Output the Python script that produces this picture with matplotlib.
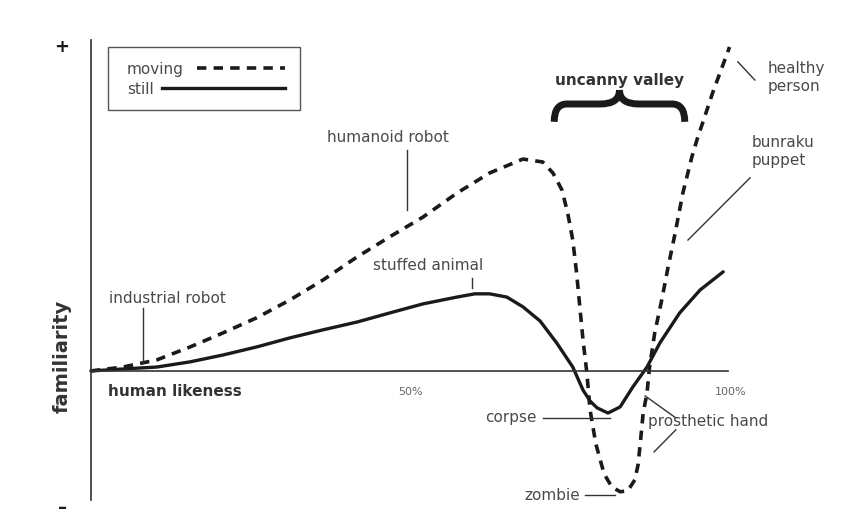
import matplotlib
matplotlib.use("Agg")
import matplotlib.pyplot as plt
from matplotlib.patches import Rectangle, PathPatch
from matplotlib.path import Path

# human likeness (%) vs familiarity
moving_x = [0, 5.0, 10.3, 15.5, 20.6, 25.9, 31.1, 36.3, 41.6, 46.7, 51.9, 57.2, 62.3,
            67.5, 70.6, 72.2, 73.6, 74.5, 75.3, 75.9, 76.4, 76.9, 77.5, 78.0, 78.9,
            80.2, 81.4, 82.7, 83.9, 85.0, 85.5, 85.9, 86.3, 86.9, 87.3, 88.1, 89.2, 90.2,
            91.3, 92.5, 93.9, 94.7, 97.2, 99.8]
moving_y = [0, 1.2, 3.4, 7.4, 11.7, 16.4, 21.9, 28.1, 35.2, 41.4, 47.5, 54.9, 61.1,
            65.4, 64.5, 61.1, 55.9, 48.8, 40.4, 30.2, 19.8, 9.6, -0.6, -12.0, -22.5,
            -31.8, -35.8, -37.3, -37.0, -33.6, -29.0, -21.3, -13.0, -6.8, 1.2, 11.7, 21.9, 32.1,
            42.6, 54.9, 66.0, 71.3, 86.1, 100.0]

still_x = [0, 5.0, 10.3, 15.5, 20.6, 25.9, 31.1, 36.3, 41.6, 46.7, 51.9, 57.2, 60.0,
           62.3, 65.0, 67.5, 70.2, 72.8, 75.3, 76.9, 78.0, 79.1, 80.8, 82.7, 84.7,
           86.9, 88.9, 92.0, 95.2, 98.8]
still_y = [0, 0.6, 1.2, 2.8, 4.9, 7.4, 10.2, 12.7, 15.1, 17.9, 20.7, 22.8, 23.8,
           23.8, 22.8, 19.8, 15.4, 8.6, 1.2, -5.9, -9.3, -11.4, -13.0, -11.1, -4.9,
           1.2, 8.6, 17.9, 25.0, 30.6]

tick_pos = [50, 100]
tick_labels = ["50%", "100%"]

txt = "#4a4a4a"
ink = "#1a1a1a"
plt.rcParams['font.family'] = ['DejaVu Sans']

fig = plt.figure(figsize=(8.55, 5.30), dpi=100)
ax = fig.add_axes([0, 0, 1, 1])
ax.set_xlim(-14.2, 119.4)
ax.set_ylim(-49.1, 114.5)
ax.axis("off")

dash = (0, (2.6, 2.0))
ax.plot(moving_x, moving_y, color=ink, lw=2.6, linestyle=dash,
        solid_joinstyle="round", dash_joinstyle="round")
ax.plot(still_x, still_y, color=ink, lw=2.4, solid_capstyle="round",
        solid_joinstyle="round")

# axes
ax.plot([0, 99.5], [0, 0], color="#333333", lw=1.2)
ax.plot([0, 0], [-39.8, 102.2], color="#333333", lw=1.2)

fs = 11
for p, l in zip(tick_pos, tick_labels):
    ax.text(p, -6.5, l, ha="center", va="center", fontsize=8, color="#666666")
ax.text(2.7, -6.5, "human likeness", ha="left", va="center", fontsize=fs,
        fontweight="bold", color="#333333")
ax.text(-4.5, 4.6, "familiarity", ha="center", va="center", rotation=90,
        fontsize=14, fontweight="bold", color="#333333")
ax.text(-4.5, 100, "+", ha="center", va="center", fontsize=13, fontweight="bold", color=ink)
ax.text(-4.5, -42.3, "\u2013", ha="center", va="center", fontsize=13, fontweight="bold", color=ink)

# legend box
ax.add_patch(Rectangle((2.66, 80.6), 30.0, 19.4, fill=False, ec="#555555", lw=1.0))
ax.text(5.6, 93.2, "moving", ha="left", va="center", fontsize=fs, color=txt)
ax.plot([16.6, 30.3], [93.5, 93.5], color=ink, lw=2.6, linestyle=dash)
ax.text(5.6, 87.0, "still", ha="left", va="center", fontsize=fs, color=txt)
ax.plot([11.1, 30.3], [87.3, 87.3], color=ink, lw=2.4)

# uncanny valley brace
x0, x1, xc = 72.4, 92.8, 82.6
yb, ym, yt = 76.9, 82.4, 86.7
verts = [(x0, yb), (x0, ym), (x0 + 2.0, ym), (xc - 3, ym), (xc, ym), (xc, yt),
         (xc, ym), (xc + 3, ym), (x1 - 2.0, ym), (x1, ym), (x1, yb)]
codes = [Path.MOVETO, Path.CURVE3, Path.CURVE3, Path.LINETO, Path.CURVE3, Path.CURVE3,
         Path.CURVE3, Path.CURVE3, Path.LINETO, Path.CURVE3, Path.CURVE3]
ax.add_patch(PathPatch(Path(verts, codes), fill=False, ec=ink, lw=5, capstyle="butt"))
ax.text(xc, 89.8, "uncanny valley", ha="center", va="center", fontsize=fs,
        fontweight="bold", color="#333333")

# labels with leader lines
def label(s, x, y, ha, lines):
    ax.text(x, y, s, ha=ha, va="center", fontsize=fs, color=txt, linespacing=1.25)
    for (a, b), (c, d) in lines:
        ax.plot([a, c], [b, d], color="#333333", lw=1.0)

label("healthy\nperson", 105.8, 90.7, "left", [((101.1, 95.4), (103.75, 89.8))])
label("bunraku\npuppet", 103.3, 67.6, "left", [((103.0, 59.6), (93.3, 40.4))])
label("humanoid robot", 46.4, 72.2, "center", [((49.4, 68.2), (49.4, 49.7))])
label("stuffed animal", 52.7, 32.7, "center", [((59.5, 28.7), (59.5, 25.6))])
label("industrial robot", 12.0, 22.5, "center", [((8.1, 19.4), (8.1, 2.8))])
label("corpse", 69.7, -14.5, "right", [((70.6, -14.5), (81.1, -14.5))])
label("zombie", 76.4, -38.3, "right", [((77.2, -38.3), (81.9, -38.3))])
label("prosthetic hand", 87.0, -15.7, "left",
      [((86.6, -7.7), (91.4, -14.5)), ((91.4, -18.2), (88.0, -25.0))])

fig.savefig("out.png", dpi=100)
